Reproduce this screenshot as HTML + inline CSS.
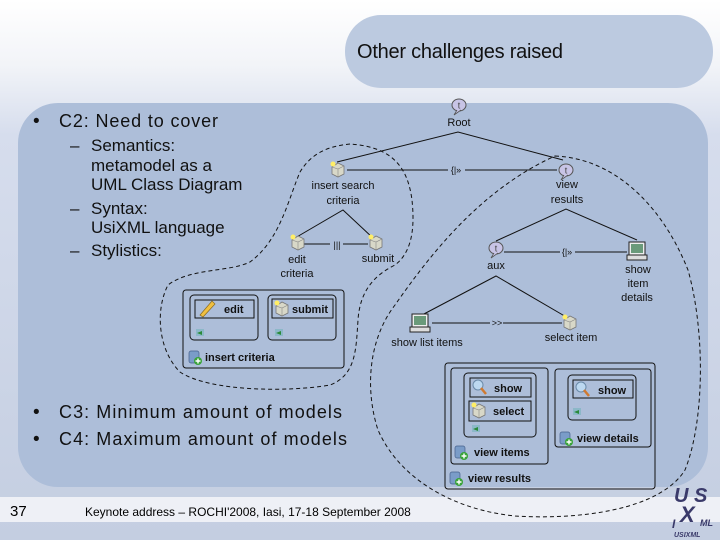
<!DOCTYPE html>
<html><head><meta charset="utf-8"><style>
html,body{margin:0;padding:0}
body{width:720px;height:540px;overflow:hidden;background:linear-gradient(#fff 0%,#d5dcea 30%,#c3cde0 100%);font-family:"Liberation Sans",sans-serif}
svg{position:absolute;left:0;top:0}
</style></head><body>
<svg width="720" height="540" viewBox="0 0 720 540" xmlns="http://www.w3.org/2000/svg" font-family="Liberation Sans, sans-serif">
<defs>
<linearGradient id="bg" x1="0" y1="0" x2="0" y2="1"><stop offset="0" stop-color="#ffffff"/><stop offset="0.12" stop-color="#f2f4f8"/><stop offset="0.25" stop-color="#d6dded"/><stop offset="1" stop-color="#c4cee1"/></linearGradient>
<g id="tic"><ellipse cx="0" cy="0" rx="7" ry="6" fill="#c8c4e6" stroke="#555" stroke-width="1"/><text x="0" y="3.5" font-size="9" text-anchor="middle" fill="#444">t</text><path d="M-2,5 L-5,10 L2,5" fill="#c8c4e6" stroke="#555" stroke-width="0.8"/></g>
<g id="cube"><path d="M-6,-3 L0,-7 L6,-4 L6,4 L0,7 L-6,4 Z" fill="#d8d8c8" stroke="#777" stroke-width="0.8"/><path d="M0,-1 L0,7 M-6,-3 L0,-1 L6,-4" stroke="#888" stroke-width="0.6" fill="none"/><circle cx="-5" cy="-6" r="2.5" fill="#ffee66"/></g>
<g id="pc"><rect x="-8" y="-10" width="16" height="13" fill="#eee" stroke="#222" stroke-width="1"/><rect x="-6" y="-8" width="12" height="9" fill="#6a9a7a"/><rect x="-10" y="3" width="20" height="5" fill="#ddd" stroke="#222" stroke-width="1"/></g>
<g id="gi"><rect x="-4" y="-4" width="8" height="7" fill="#8cb8c8"/><path d="M-3,0 L2,-2 L2,2 Z" fill="#2a8a3a"/></g>
<g id="db"><rect x="-6" y="-6" width="10" height="12" rx="2" fill="#7a9cc8" stroke="#46608a" stroke-width="0.7"/><circle cx="3" cy="4" r="4" fill="#3aa33a"/><path d="M3,1.5 v5 M0.5,4 h5" stroke="#fff" stroke-width="1.4"/></g>
<g id="mag"><circle cx="-2" cy="-2" r="5" fill="#bcd8f0" stroke="#6a8aa8"/><path d="M1,1 L6,7" stroke="#d07a30" stroke-width="2.5"/></g>
</defs>
<rect width="720" height="540" fill="url(#bg)"/>
<rect x="345" y="15" width="368" height="73" rx="36" fill="#bccae0"/>
<text x="357" y="58" font-size="20" fill="#111" textLength="206">Other challenges raised</text>
<rect x="18" y="103" width="690" height="384" rx="40" fill="#adbed9"/>
<rect x="0" y="497" width="720" height="25" fill="#eef0f6"/>
<text x="10" y="516" font-size="15">37</text>
<text x="85" y="516" font-size="12">Keynote address – ROCHI'2008, Iasi, 17-18 September 2008</text>
<g fill="#111">
<text x="33" y="127" font-size="19">•</text><text x="59" y="127" font-size="18" textLength="159">C2: Need to cover</text>
<text x="70" y="151" font-size="17">–</text><text x="91" y="151" font-size="17">Semantics:</text>
<text x="91" y="171" font-size="17">metamodel as a</text>
<text x="91" y="190" font-size="17">UML Class Diagram</text>
<text x="70" y="214" font-size="17">–</text><text x="91" y="214" font-size="17">Syntax:</text>
<text x="91" y="233" font-size="17">UsiXML language</text>
<text x="70" y="256" font-size="17">–</text><text x="91" y="256" font-size="17">Stylistics:</text>
<text x="33" y="418" font-size="19">•</text><text x="59" y="418" font-size="18" textLength="283">C3: Minimum amount of models</text>
<text x="33" y="445" font-size="19">•</text><text x="59" y="445" font-size="18" textLength="288">C4: Maximum amount of models</text>
</g>
<g fill="none" stroke="#111" stroke-width="1" stroke-dasharray="4,3">
<path d="M350,144 C330,146 312,152 300,172 C288,200 280,240 250,262 C230,272 190,268 168,285 C155,310 158,350 180,372 C210,392 290,392 330,385 C356,375 356,350 358,320 C360,290 375,275 395,265 C415,250 414,220 412,200 C408,170 395,147 350,144 Z"/>
<path d="M555,156 C610,158 660,200 688,270 C705,330 705,420 685,470 C660,510 580,520 515,516 C455,510 400,480 378,430 C365,390 368,340 395,305 C430,255 480,190 555,156 Z"/>
</g>
<g stroke="#111" stroke-width="1" fill="none">
<path d="M337,162 L458,132 L563,160"/>
<path d="M347,170 L448,170 M465,170 L557,170"/>
<path d="M295,238 L343,210 L373,238"/>
<path d="M303,244 L330,244 M343,244 L368,244"/>
<path d="M496,241 L566,209 L637,240"/>
<path d="M504,252 L560,252 M575,252 L627,252"/>
<path d="M422,315 L496,276 L568,318"/>
<path d="M432,323 L490,323 M503,323 L562,323"/>
</g>
<g font-size="9" fill="#111" text-anchor="middle">
<text x="456" y="173">{|»</text><text x="337" y="248">|||</text><text x="567" y="255">{|»</text><text x="497" y="326">&gt;&gt;</text>
</g>
<use href="#tic" x="459" y="105"/><use href="#tic" x="566" y="170"/><use href="#tic" x="496" y="248"/>
<use href="#cube" x="338" y="170"/><use href="#cube" x="298" y="243"/><use href="#cube" x="376" y="243"/><use href="#cube" x="570" y="323"/>
<use href="#pc" x="637" y="252"/><use href="#pc" x="420" y="324"/>
<g font-size="11" fill="#111" text-anchor="middle">
<text x="459" y="126">Root</text>
<text x="343" y="189">insert search</text><text x="343" y="204">criteria</text>
<text x="567" y="188">view</text><text x="567" y="203">results</text>
<text x="297" y="263">edit</text><text x="297" y="277">criteria</text>
<text x="378" y="262">submit</text>
<text x="496" y="269">aux</text>
<text x="638" y="273">show</text><text x="638" y="287">item</text><text x="637" y="301">details</text>
<text x="427" y="346">show list items</text>
<text x="571" y="341">select item</text>
</g>
<g fill="none" stroke="#111" stroke-width="1">
<rect x="183" y="290" width="161" height="78" rx="3"/>
<rect x="190" y="295" width="68" height="45" rx="4"/>
<rect x="195" y="300" width="59" height="18"/>
<rect x="268" y="295" width="68" height="45" rx="4"/>
<rect x="272" y="299" width="61" height="19"/>
<rect x="445" y="363" width="210" height="126" rx="3"/>
<rect x="451" y="368" width="97" height="96" rx="3"/>
<rect x="464" y="373" width="72" height="64" rx="4"/>
<rect x="470" y="378" width="61" height="19"/>
<rect x="469" y="401" width="62" height="20"/>
<rect x="555" y="369" width="96" height="78" rx="3"/>
<rect x="568" y="375" width="68" height="45" rx="4"/>
<rect x="573" y="380" width="60" height="18"/>
</g>
<path d="M200,315 L212,301 L215,304 L203,317 Z" fill="#f0c040" stroke="#8a6a20" stroke-width="0.7"/>
<use href="#cube" x="282" y="309"/><use href="#cube" x="479" y="411"/>
<use href="#mag" x="480" y="387"/><use href="#mag" x="583" y="389"/>
<use href="#gi" x="200" y="333"/><use href="#gi" x="279" y="333"/><use href="#gi" x="476" y="429"/><use href="#gi" x="577" y="412"/>
<use href="#db" x="195" y="357"/><use href="#db" x="461" y="452"/><use href="#db" x="566" y="438"/><use href="#db" x="456" y="478"/>
<g font-size="11" font-weight="bold" fill="#111">
<text x="224" y="313">edit</text><text x="292" y="313">submit</text>
<text x="205" y="361">insert criteria</text>
<text x="494" y="392">show</text><text x="493" y="415">select</text>
<text x="598" y="394">show</text>
<text x="474" y="456">view items</text>
<text x="577" y="442">view details</text>
<text x="468" y="482">view results</text>
</g>
<g font-family="Liberation Sans, sans-serif" font-weight="bold" font-style="italic" fill="#3a3a6a">
<text x="674" y="502" font-size="20">U S</text>
<text x="680" y="522" font-size="22">X</text>
<text x="672" y="528" font-size="12">I</text><text x="700" y="526" font-size="9">ML</text>
<text x="674" y="537" font-size="7">USIXML</text>
</g>
</svg>
</body></html>
